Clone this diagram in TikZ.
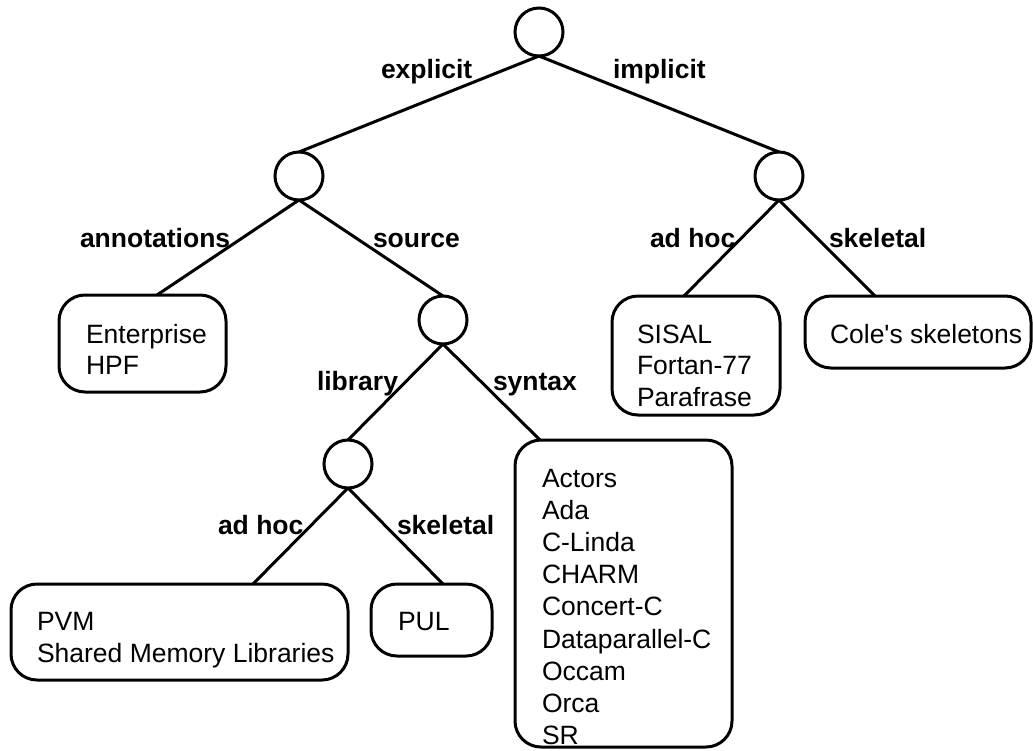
\documentclass[tikz,border=0pt]{standalone}
\usepackage{fontspec}
\setmainfont{Liberation Sans}
\newfontfamily\plainsans{Liberation Sans}[Ligatures=TeXOff]
\begin{document}
\begin{tikzpicture}[x=1pt,y=-1pt,
  every node/.style={inner sep=0pt, outer sep=0pt},
  dot/.style={circle, draw, line width=3pt, minimum size=48pt},
  leaf/.style={draw, line width=3pt, rounded corners=26pt, anchor=north west},
  txt/.style={anchor=base west, font=\fontsize{26.5}{31.5}\selectfont},
  lab/.style={anchor=base west, font=\fontsize{26.5}{32}\selectfont\bfseries},
  edge/.style={line width=3pt}]
\useasboundingbox (0,0) rectangle (1033,750);

% inner nodes
\node[dot] (root) at (539,32) {};
\node[dot] (expl) at (299,176) {};
\node[dot] (impl) at (779,176) {};
\node[dot] (src)  at (443,320) {};
\node[dot] (lib)  at (348,464) {};

% leaf boxes
\node[leaf, minimum width=167pt, minimum height=97pt]  (ent)  at (59,295) {};
\node[leaf, minimum width=168pt, minimum height=119pt] (sis)  at (612,296) {};
\node[leaf, minimum width=226pt, minimum height=72pt]  (cole) at (805,296) {};
\node[leaf, minimum width=217pt, minimum height=307pt] (syn)  at (515,440) {};
\node[leaf, minimum width=337pt, minimum height=96pt]  (pvm)  at (11,584) {};
\node[leaf, minimum width=121pt, minimum height=72pt]  (pul)  at (371,584) {};

% leaf texts
\node[txt] (entT)  at (86,343)  {\begin{tabular}[t]{@{}l@{}}Enterprise\\HPF\end{tabular}};
\node[txt] (sisT)  at (637,343) {\begin{tabular}[t]{@{}l@{}}SISAL\\Fortan-77\\Parafrase\end{tabular}};
\node[txt] (coleT) at (830,343) {\plainsans Cole's skeletons};
\node[txt, font=\fontsize{26.5}{32.2}\selectfont] (synT) at (542,487) {\begin{tabular}[t]{@{}l@{}}Actors\\Ada\\C-Linda\\CHARM\\Concert-C\\Dataparallel-C\\Occam\\Orca\\SR\end{tabular}};
\node[txt, font=\fontsize{26.5}{32}\selectfont] (pvmT) at (37,630) {\begin{tabular}[t]{@{}l@{}}PVM\\Shared Memory Libraries\end{tabular}};
\node[txt] (pulT) at (398,630) {PUL};

% connectors
\draw[edge] (root.south) -- (expl.north);
\draw[edge] (root.south) -- (impl.north);
\draw[edge] (expl.south) -- ([xshift=98pt]ent.north west);
\draw[edge] (expl.south) -- (src.north);
\draw[edge] (impl.south) -- ([xshift=72pt]sis.north west);
\draw[edge] (impl.south) -- ([xshift=70pt]cole.north west);
\draw[edge] (src.south) -- (lib.north);
\draw[edge] (src.south) -- ([xshift=25pt]syn.north west);
\draw[edge] (lib.south) -- ([xshift=242pt]pvm.north west);
\draw[edge] (lib.south) -- ([xshift=72pt]pul.north west);

% edge labels
\node[lab] (lExpl) at (381,78)  {explicit};
\node[lab] (lImpl) at (613,78)  {implicit};
\node[lab] (lAnn)  at (80,247)  {annotations};
\node[lab] (lSrc)  at (373,247) {source};
\node[lab] (lAh1)  at (650,247) {ad hoc};
\node[lab] (lSk1)  at (829,247) {skeletal};
\node[lab] (lLib)  at (317,390) {library};
\node[lab] (lSyn)  at (493,390) {syntax};
\node[lab] (lAh2)  at (218,534) {ad hoc};
\node[lab] (lSk2)  at (397,534) {skeletal};
\end{tikzpicture}
\end{document}
